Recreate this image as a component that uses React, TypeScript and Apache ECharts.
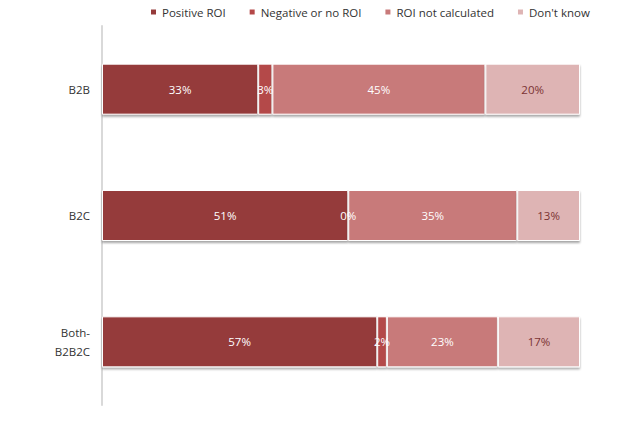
import React, { useEffect, useRef } from "react";
import * as echarts from "echarts";

const categories = ["B2B", "B2C", "Both-\nB2B2C"];
const seriesNames = ["Positive ROI", "Negative or no ROI", "ROI not calculated", "Don't know"];
const positiveROI = [33, 51, 57];
const negativeROI = [3, 0, 2];
const notCalculated = [45, 35, 23];
const dontKnow = [20, 13, 17];
const colors = ["#953b3b", "#b44848", "#c87a7a", "#deb4b4"];
const labelColors = ["#ffffff", "#ffffff", "#ffffff", "#7b3333"];

export default function App() {
  const ref = useRef<HTMLDivElement>(null);
  useEffect(() => {
    const chart = echarts.init(ref.current!, null, { renderer: "svg" });
    const all = [positiveROI, negativeROI, notCalculated, dontKnow];
    const totals = categories.map((_, i) => all.reduce((s, a) => s + a[i], 0));
    chart.setOption({
      animation: false,
      textStyle: { fontFamily: "Open Sans, Liberation Sans, sans-serif" },
      legend: {
        top: 1,
        left: 144,
        itemWidth: 7,
        itemHeight: 7,
        itemGap: 22,
        icon: "rect",
        textStyle: { fontSize: 11.5, color: "#333" },
        data: seriesNames,
      },
      grid: { left: 102, right: 48, top: 26, bottom: 25, containLabel: false },
      xAxis: { type: "value", min: 0, max: 100, show: false },
      yAxis: {
        type: "category",
        inverse: true,
        data: categories,
        axisLine: { show: true, lineStyle: { color: "#d9d9d9", width: 2 } },
        axisTick: { show: false },
        axisLabel: { fontSize: 11.5, color: "#333", margin: 12, lineHeight: 19 },
      },
      series: all.map((arr, k) => ({
        name: seriesNames[k],
        type: "bar",
        stack: "total",
        barWidth: 51,
        data: arr.map((v, i) => ({ value: (v / totals[i]) * 100, raw: v })),
        itemStyle: {
          color: colors[k],
          borderColor: "#ffffff",
          borderWidth: 1,
          shadowColor: "rgba(0,0,0,0.35)",
          shadowBlur: 2,
          shadowOffsetY: 2,
        },
        label: {
          show: true,
          position: "inside",
          color: labelColors[k],
          fontSize: 11.5,
          formatter: (p: any) => p.data.raw + "%",
        },
      })),
    });
    return () => chart.dispose();
  }, []);
  return (
    <div
      ref={ref}
      style={{ position: "absolute", left: 0, top: 0, width: 628, height: 430 }}
    />
  );
}
